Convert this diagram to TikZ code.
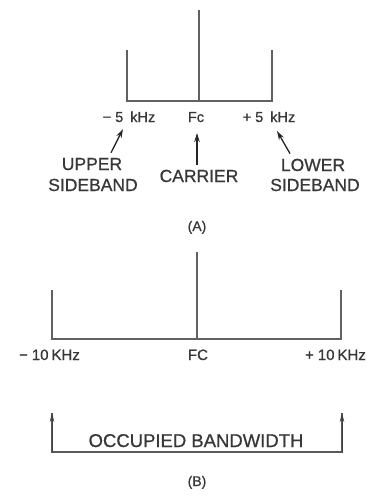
\documentclass[tikz,border=0pt]{standalone}
\usepackage{fontspec}
\setmainfont[FakeBold=0.8]{Liberation Sans}
\usetikzlibrary{arrows.meta}
\begin{document}
\begin{tikzpicture}[x=1pt,y=-1pt,
  specline/.style={draw=black!62,line width=1.6pt},
  lbl/.style={anchor=base,inner sep=0pt,text=black!78},
  small/.style={lbl,font=\fontsize{14.5}{16}\selectfont},
  big/.style={lbl,font=\fontsize{17.5}{20}\selectfont},
  arr/.style={draw=black!85,line width=1.3pt,-{Stealth[length=9pt,width=5.5pt]}},
  barr/.style={draw=black!75,line width=1pt,-{Stealth[length=9pt,width=4.5pt]}},
  brk/.style={draw=black!65,line width=1.3pt}]
\useasboundingbox (0,0) rectangle (387,498);
% ---- (A) ----
\coordinate (aL) at (127,101);
\coordinate (aLt) at (127,50);
\coordinate (aC) at (199,101);
\coordinate (aCt) at (199,10);
\coordinate (aR) at (272,101);
\coordinate (aRt) at (272,50);
\draw[specline] (aLt) -- (aL) -- (aC) -- (aR) -- (aRt);
\draw[specline] (aC) -- (aCt);
\node[small] (m5) at (129,122) {−\hspace{4pt}5\hspace{7pt}kHz};
\node[small] (fc) at (196,122) {Fc};
\node[small] (p5) at (269,122) {+\hspace{4pt}5\hspace{7pt}kHz};
\node[big] (upA) at (92,170) {UPPER};
\node[big] (upB) at (93,191) {SIDEBAND};
\node[big] (car) at (199,182) {CARRIER};
\node[big] (loA) at (313,171) {LOWER};
\node[big] (loB) at (315,191) {SIDEBAND};
\coordinate (usH) at (123,129);
\coordinate (cH) at (197,133);
\coordinate (lsH) at (277,131);
\draw[arr] ([xshift=19pt,yshift=5pt]upA.north) -- (usH);
\draw[arr] ([xshift=-2pt,yshift=5pt]car.north) -- (cH);
\draw[arr] ([xshift=-23pt,yshift=5pt]loA.north) -- (lsH);
\node[lbl,font=\fontsize{14}{16}\selectfont] (capA) at (197,231) {(A)};
% ---- (B) ----
\coordinate (bL) at (52,339);
\coordinate (bLt) at (52,290);
\coordinate (bC) at (197,339);
\coordinate (bCt) at (197,252);
\coordinate (bR) at (341,339);
\coordinate (bRt) at (341,290);
\draw[specline] (bLt) -- (bL) -- (bC) -- (bR) -- (bRt);
\draw[specline] (bC) -- (bCt);
\node[lbl,font=\fontsize{15}{17}\selectfont] (m10) at (49.5,360) {−\hspace{4pt}10\hspace{3pt}KHz};
\node[lbl,font=\fontsize{15}{17}\selectfont] (fcb) at (198,360) {FC};
\node[lbl,font=\fontsize{15}{17}\selectfont] (p10) at (335.5,360) {+\hspace{4pt}10\hspace{3pt}KHz};
\node[lbl,font=\fontsize{18.5}{20}\selectfont] (occ) at (196,447) {OCCUPIED BANDWIDTH};
\coordinate (kL) at (52,452);
\coordinate (kLt) at (52,413);
\coordinate (kR) at (342,452);
\coordinate (kRt) at (342,413);
\draw[brk] (kLt) -- (kL) -- (kR) -- (kRt);
\draw[barr] (kL) -- (kLt);
\draw[barr] (kR) -- (kRt);
\node[lbl,font=\fontsize{14}{16}\selectfont] (capB) at (197,486) {(B)};
\end{tikzpicture}
\end{document}
